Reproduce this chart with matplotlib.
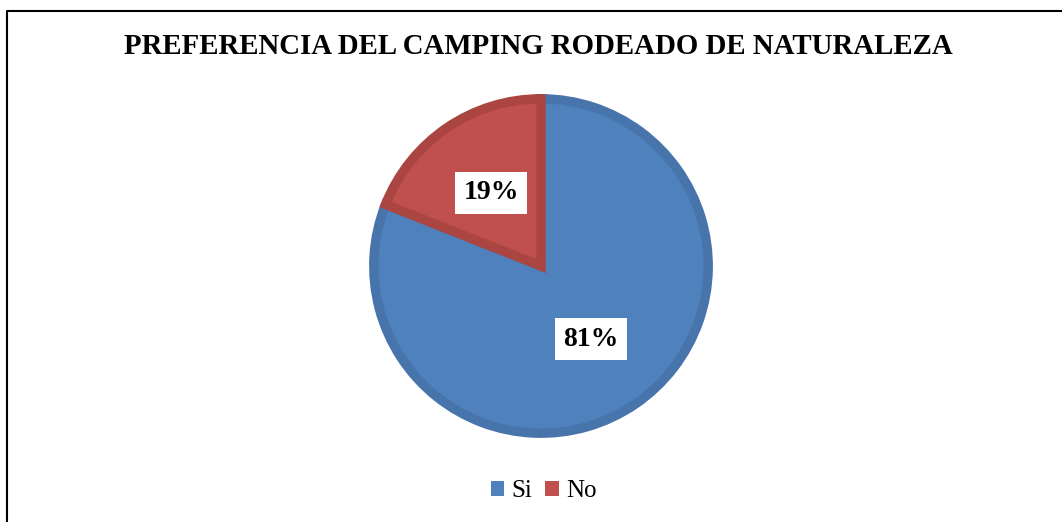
import matplotlib.pyplot as plt
from matplotlib.patches import Patch
from matplotlib.lines import Line2D

# data
labels = ['Si', 'No']
values = [81, 19]
colors = ['#4F81BD', '#C0504D']
edge_colors = ['#4874AC', '#AA4542']

W, H = 1062, 522
fig = plt.figure(figsize=(W / 100, H / 100), dpi=100)
fig.patch.set_facecolor('white')

# pie axes: centre (541, 266) px, radius 172 px
cx, cy, r = 541, 266, 172
ax = fig.add_axes([(cx - r) / W, (H - cy - r) / H, 2 * r / W, 2 * r / H])

wedges, texts, autotexts = ax.pie(
    values, colors=colors, startangle=90, counterclock=False,
    radius=0.972, autopct='%d%%', pctdistance=0.53,
    wedgeprops=dict(linewidth=6.8, joinstyle='miter'),
    textprops=dict(family='Liberation Serif', weight='bold', size=20, color='black'),
)
for w, ec in zip(wedges, edge_colors):
    w.set_edgecolor(ec)
for t in autotexts:
    t.set_bbox(dict(facecolor='white', edgecolor='none', pad=6))

ax.set_xlim(-1, 1)
ax.set_ylim(-1, 1)
ax.set_aspect('equal')
ax.axis('off')

fig.text(538 / W, 1 - 47 / H, 'PREFERENCIA DEL CAMPING RODEADO DE NATURALEZA',
         ha='center', va='center', family='Liberation Serif', weight='bold', size=20.8)

handles = [Patch(facecolor=c, edgecolor='none') for c in colors]
fig.legend(handles, labels, loc='center', bbox_to_anchor=(0.512, 1 - 491 / H),
           ncol=2, frameon=False, handlelength=0.55, handleheight=0.55,
           handletextpad=0.3, columnspacing=0.5,
           prop=dict(family='Liberation Serif', size=18))

# border lines (left and top)
x0 = 7 / W
y0 = 1 - 11 / H
fig.add_artist(Line2D([x0, x0, 1], [0, y0, y0], transform=fig.transFigure,
                      color='black', linewidth=1.5))

fig.savefig('out.png', dpi=100)
